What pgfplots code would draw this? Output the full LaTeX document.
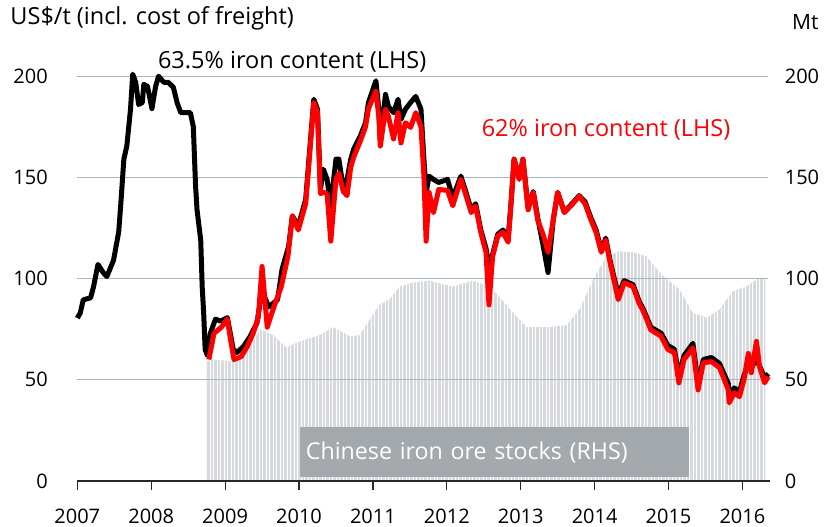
\documentclass[border=0pt]{standalone}
\usepackage{pgfplots}
\pgfplotsset{compat=1.18}
\usepackage{fontspec}
\setmainfont{Open Sans}
\usetikzlibrary{patterns.meta}
\definecolor{gridc}{RGB}{172,182,190}
\definecolor{stockc}{RGB}{214,218,222}
\definecolor{boxc}{RGB}{163,169,173}
\definecolor{axc}{RGB}{40,40,40}
\begin{document}
\begin{tikzpicture}
\path (-77.3pt,-40pt) rectangle (754.7pt,481pt);
\begin{axis}[
  at={(0pt,0pt)}, anchor=south west,
  scale only axis, width=691pt, height=404.8pt,
  xmin=2007, xmax=2016.35, ymin=0, ymax=200,
  clip=false, set layers,
  axis x line*=bottom, axis y line*=left,
  x axis line style={axc, line width=1.5pt, shorten >=-1.5pt},
  y axis line style={draw=none},
  xtick={2007,2008,...,2016}, ytick={0,50,...,200},
  ymajorgrids, grid style={gridc, line width=1.2pt},
  tick align=outside, major tick length=9pt,
  xtick style={axc, line width=1.2pt},
  ytick style={draw=none},
  tick label style={font=\fontsize{20}{24}\selectfont},
  /pgf/number format/assume math mode=true,
  /pgf/number format/1000 sep={},
  yticklabel style={xshift=-17pt},
  xticklabel style={yshift=-15pt},
]
\addplot[on layer=axis background, draw=none, fill=stockc,
  postaction={pattern={Lines[angle=90,distance=3.5pt,line width=1pt]}, pattern color=white}]
coordinates {
(2008.75,0) (2008.75,59) (2008.83,60) (2009.16,59) (2009.3,64) (2009.47,75) (2009.65,72)
(2009.83,66) (2010.01,69) (2010.28,72) (2010.46,76) (2010.69,71.5) (2010.82,72)
(2010.96,80) (2011.09,87) (2011.23,90) (2011.36,96) (2011.54,98) (2011.76,99)
(2012.08,96) (2012.35,99) (2012.58,96) (2012.71,91) (2012.9,83) (2013.08,76)
(2013.35,76) (2013.62,77) (2013.8,85) (2013.98,99.5) (2014.16,111) (2014.34,113.5)
(2014.52,113) (2014.7,111) (2014.88,103) (2015.01,98.7) (2015.15,94.5) (2015.33,83)
(2015.51,80.7) (2015.69,84.7) (2015.87,93.7) (2016.05,96) (2016.23,100.5) (2016.31,100)
(2016.31,0)
} \closedcycle;
\addplot[black, line width=5pt, line join=round] coordinates {
(2007.00,80.5) (2007.04,83) (2007.08,89.5) (2007.18,90.5) (2007.22,96) (2007.28,107)
(2007.35,103) (2007.40,101) (2007.49,109) (2007.56,123) (2007.59,137.6) (2007.63,159)
(2007.67,165.5) (2007.72,183.7) (2007.75,201) (2007.79,197) (2007.83,186) (2007.88,187)
(2007.90,196) (2007.95,195) (2008.01,184) (2008.06,195) (2008.10,200) (2008.17,197)
(2008.23,197) (2008.30,194.5) (2008.35,187) (2008.40,182) (2008.53,182) (2008.57,175)
(2008.60,146) (2008.62,134) (2008.67,119) (2008.69,96) (2008.71,83) (2008.73,65)
(2008.76,62) (2008.80,73) (2008.87,80) (2008.94,79) (2009.03,80.7) (2009.07,73)
(2009.11,65) (2009.16,63.5) (2009.25,66.5) (2009.34,71.5) (2009.43,78) (2009.50,94)
(2009.59,86) (2009.71,89.6) (2009.77,104.5) (2009.86,116) (2009.91,131) (2009.99,126)
(2010.09,139) (2010.13,157) (2010.20,188.6) (2010.25,183.7) (2010.29,144) (2010.33,154)
(2010.38,149) (2010.43,136) (2010.50,159) (2010.54,159) (2010.60,144) (2010.65,149)
(2010.70,159) (2010.74,164) (2010.83,170.5) (2010.90,177) (2010.94,187) (2011.04,197.7)
(2011.08,183.7) (2011.10,168) (2011.17,191) (2011.21,185) (2011.28,182) (2011.34,188.6)
(2011.38,178.7) (2011.44,183.7) (2011.51,187) (2011.58,190) (2011.65,183.7) (2011.69,159)
(2011.72,142.6) (2011.76,150.6) (2011.82,149) (2011.89,147.5) (2012.01,149) (2012.08,140)
(2012.19,150.6) (2012.26,142.6) (2012.33,134) (2012.39,137) (2012.46,124) (2012.53,115)
(2012.57,106) (2012.62,112) (2012.69,122) (2012.76,124) (2012.83,120) (2012.87,138)
(2012.91,159) (2012.98,150) (2013.03,159) (2013.10,135) (2013.17,143) (2013.23,130)
(2013.31,115) (2013.37,103) (2013.44,129) (2013.50,142.6) (2013.59,133) (2013.72,138)
(2013.79,141) (2013.87,138) (2013.95,130) (2014.02,124) (2014.09,114) (2014.15,120)
(2014.22,107) (2014.32,92) (2014.40,99) (2014.52,97) (2014.60,89) (2014.67,84)
(2014.76,76) (2014.90,73) (2014.99,67) (2015.08,65) (2015.14,52) (2015.21,62)
(2015.33,68) (2015.40,48) (2015.47,60) (2015.58,61) (2015.69,58) (2015.81,48)
(2015.82,42) (2015.89,46) (2015.96,44) (2016.02,52) (2016.08,58) (2016.12,56)
(2016.19,60) (2016.23,57) (2016.30,51) (2016.35,53)
};
\addplot[red, line width=5pt, line join=round] coordinates {
(2008.78,60) (2008.85,73) (2008.95,76) (2009.03,80) (2009.08,68.5) (2009.12,60)
(2009.22,61.5) (2009.30,66.5) (2009.38,73) (2009.45,81) (2009.50,106) (2009.57,76)
(2009.66,86) (2009.76,96) (2009.85,111) (2009.91,131) (2009.99,124) (2010.09,137)
(2010.13,155) (2010.20,187) (2010.25,182) (2010.29,142) (2010.33,142.6) (2010.38,142)
(2010.43,118.5) (2010.50,149) (2010.54,152) (2010.60,143) (2010.65,141) (2010.70,155)
(2010.74,160) (2010.83,168) (2010.90,175) (2010.94,184) (2011.04,192.7) (2011.08,180)
(2011.10,165.5) (2011.17,183.7) (2011.21,180) (2011.28,169) (2011.34,182) (2011.38,167)
(2011.44,177) (2011.51,174.7) (2011.58,182) (2011.65,175) (2011.69,150.6) (2011.72,118.5)
(2011.76,142.6) (2011.82,132.6) (2011.89,144) (2012.01,143.6) (2012.08,136) (2012.19,149)
(2012.26,141) (2012.33,132.6) (2012.39,135.8) (2012.46,122.8) (2012.53,113) (2012.57,87)
(2012.62,111) (2012.69,121) (2012.76,122.8) (2012.83,118) (2012.87,137.6) (2012.91,159)
(2012.98,149) (2013.03,159) (2013.10,134) (2013.17,142.6) (2013.23,129) (2013.31,121)
(2013.37,113) (2013.44,129) (2013.50,142.6) (2013.59,132.6) (2013.72,137.6) (2013.79,140.8)
(2013.87,137) (2013.95,129) (2014.02,122.8) (2014.09,113) (2014.15,119) (2014.22,106)
(2014.32,89.6) (2014.40,98) (2014.52,96) (2014.60,88) (2014.67,83) (2014.76,74.7)
(2014.90,71.5) (2014.99,65) (2015.08,63.4) (2015.14,48.5) (2015.21,60) (2015.33,65.8)
(2015.40,45) (2015.47,58.4) (2015.58,59) (2015.69,56) (2015.81,45) (2015.82,38.6)
(2015.89,43.6) (2015.96,41.7) (2016.02,50) (2016.08,63) (2016.12,53.5) (2016.19,69)
(2016.23,56.6) (2016.30,48.5) (2016.35,51.6)
};
\node[anchor=west, inner sep=0pt, font=\fontsize{23.5}{28}\selectfont] at (axis cs:2008.09,207) {63.5\% iron content (LHS)};
\node[anchor=west, inner sep=0pt, text=red, font=\fontsize{23.5}{28}\selectfont] at (axis cs:2012.47,173.4) {62\% iron content (LHS)};
\node[anchor=west, fill=boxc, text=white, minimum height=50pt, text width=377pt, inner xsep=6pt, inner ysep=0pt, align=left, font=\fontsize{23.2}{28}\selectfont] at (axis cs:2010.01,14.3) {Chinese iron ore stocks (RHS)};
\end{axis}
\begin{axis}[
  at={(0pt,0pt)}, anchor=south west,
  scale only axis, width=691pt, height=404.8pt,
  xmin=2007, xmax=2016.35, ymin=0, ymax=200,
  hide x axis, axis y line*=right,
  y axis line style={draw=none}, ytick style={draw=none},
  ytick={0,50,...,200},
  tick label style={font=\fontsize{20}{24}\selectfont},
  /pgf/number format/assume math mode=true,
  yticklabel style={xshift=13pt},
]
\addplot[draw=none] coordinates {(2007,0) (2016,200)};
\end{axis}
\node[anchor=west, inner sep=0pt, font=\fontsize{23.5}{28}\selectfont] at (-67pt,463pt) {US\$/t (incl. cost of freight)};
\node[anchor=west, inner sep=0pt, font=\fontsize{21}{24}\selectfont] at (714.7pt,459pt) {Mt};
\end{tikzpicture}
\end{document}
